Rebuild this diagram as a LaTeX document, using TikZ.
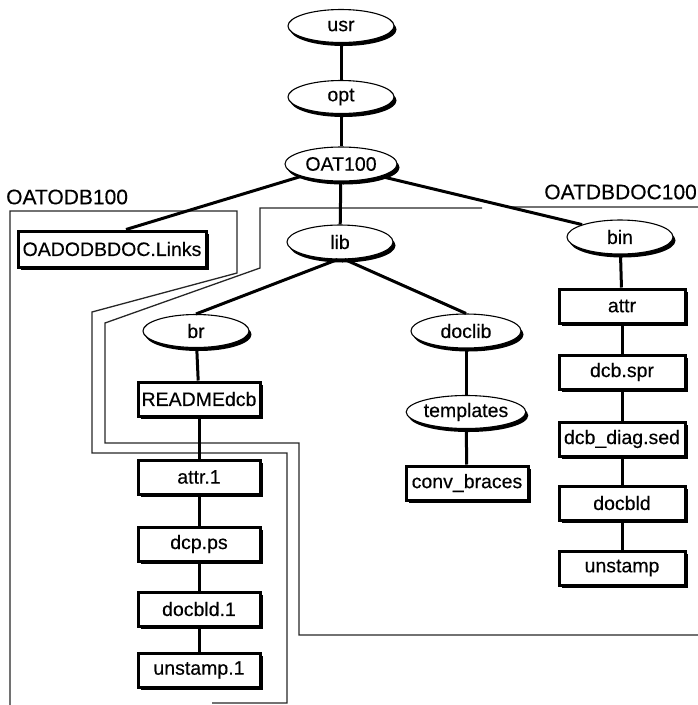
\documentclass[tikz,border=0pt]{standalone}
\usepackage{fontspec}
\setmainfont{Liberation Sans}[FakeBold=0.3]
\usetikzlibrary{shapes.geometric,shadows}

\begin{document}
\begin{tikzpicture}[x=1pt,y=-1pt,
  dirnode/.style={ellipse, draw=black, line width=1.1pt, fill=white,
    minimum width=106pt, minimum height=33pt, inner sep=0pt,
    font=\fontsize{19.5}{21}\selectfont,
    drop shadow={shadow xshift=2.5pt, shadow yshift=-3.5pt, fill=black, opacity=1}},
  filenode/.style={rectangle, draw=black, line width=3pt, fill=white,
    minimum width=122pt, minimum height=34pt, inner sep=2pt,
    font=\fontsize{19.5}{21}\selectfont,
    drop shadow={shadow xshift=2.5pt, shadow yshift=-2.5pt, fill=black, opacity=1}},
  link/.style={line width=3pt},
  bound/.style={line width=1.3pt, draw=black!85},
  region/.style={font=\fontsize{21}{23}\selectfont, inner sep=0pt}
]
\useasboundingbox (0,0) rectangle (698,705);

% package boundaries
\draw[bound] (10,705) -- (10,211) -- (237,211) -- (237,273) -- (92,312)
  -- (92,453) -- (287,453) -- (287,703) -- (212,703);
\draw[bound] (698,207) -- (510,207) (482,208) -- (260,208) -- (260,268)
  -- (105,323) -- (105,443) -- (299,443) -- (299,635) -- (698,635);

\node[region, anchor=west] (pkgA) at (6,197) {OATODB100};
\node[region, anchor=east] (pkgB) at (697,192) {OATDBDOC100};

% directories
\node[dirnode] (usr) at (341,26) {usr};
\node[dirnode] (opt) at (341,97) {opt};
\node[dirnode, minimum width=112pt, minimum height=34pt] (oat) at (341,164) {OAT100};
\node[dirnode, minimum height=34pt] (lib) at (340,242) {lib};
\node[dirnode, minimum height=34pt] (bin) at (620,237) {bin};
\node[dirnode] (br) at (196,331) {br};
\node[dirnode, minimum width=110pt, minimum height=34pt] (doclib) at (466,331) {doclib};
\node[dirnode, minimum width=100pt] (templates) at (466,412) {templates};

% files
\node[filenode, minimum width=188pt, minimum height=36pt] (links) at (112,249) {OADODBDOC.Links};
\node[filenode] (readme) at (199,399) {READMEdcb};
\node[filenode] (attrone) at (199,477) {attr.1};
\node[filenode] (dcpps) at (199,544) {dcp.ps};
\node[filenode] (docbldone) at (199,609) {docbld.1};
\node[filenode] (unstampone) at (199,670) {unstamp.1};
\node[filenode] (conv) at (467,483) {conv\_braces};
\node[filenode, minimum width=126pt] (attr) at (622,306) {attr};
\node[filenode, minimum width=126pt] (dcbspr) at (622,372) {dcb.spr};
\node[filenode, minimum width=126pt] (dcbdiag) at (622,439) {dcb\_diag.sed};
\node[filenode, minimum width=126pt] (docbld) at (622,503) {docbld};
\node[filenode, minimum width=126pt] (unstamp) at (622,568) {unstamp};

% tree connectors
\draw[link] (usr) -- (opt);
\draw[link] (opt) -- (oat);
\draw[link] (oat) -- (lib);
\draw[link] (oat.south west) -- ([xshift=14pt]links.north);
\draw[link] (oat.south east) -- (bin.north west);
\draw[link] (lib.262) -- (br.north);
\draw[link] (lib.285) -- (doclib.north);
\draw[link] (br) -- (readme);
\draw[link] (readme) -- (attrone);
\draw[link] (attrone) -- (dcpps);
\draw[link] (dcpps) -- (docbldone);
\draw[link] (docbldone) -- (unstampone);
\draw[link] (doclib) -- (templates);
\draw[link] (templates) -- (conv);
\draw[link] (bin) -- (attr);
\draw[link] (attr) -- (dcbspr);
\draw[link] (dcbspr) -- (dcbdiag);
\draw[link] (dcbdiag) -- (docbld);
\draw[link] (docbld) -- (unstamp);
\end{tikzpicture}
\end{document}
